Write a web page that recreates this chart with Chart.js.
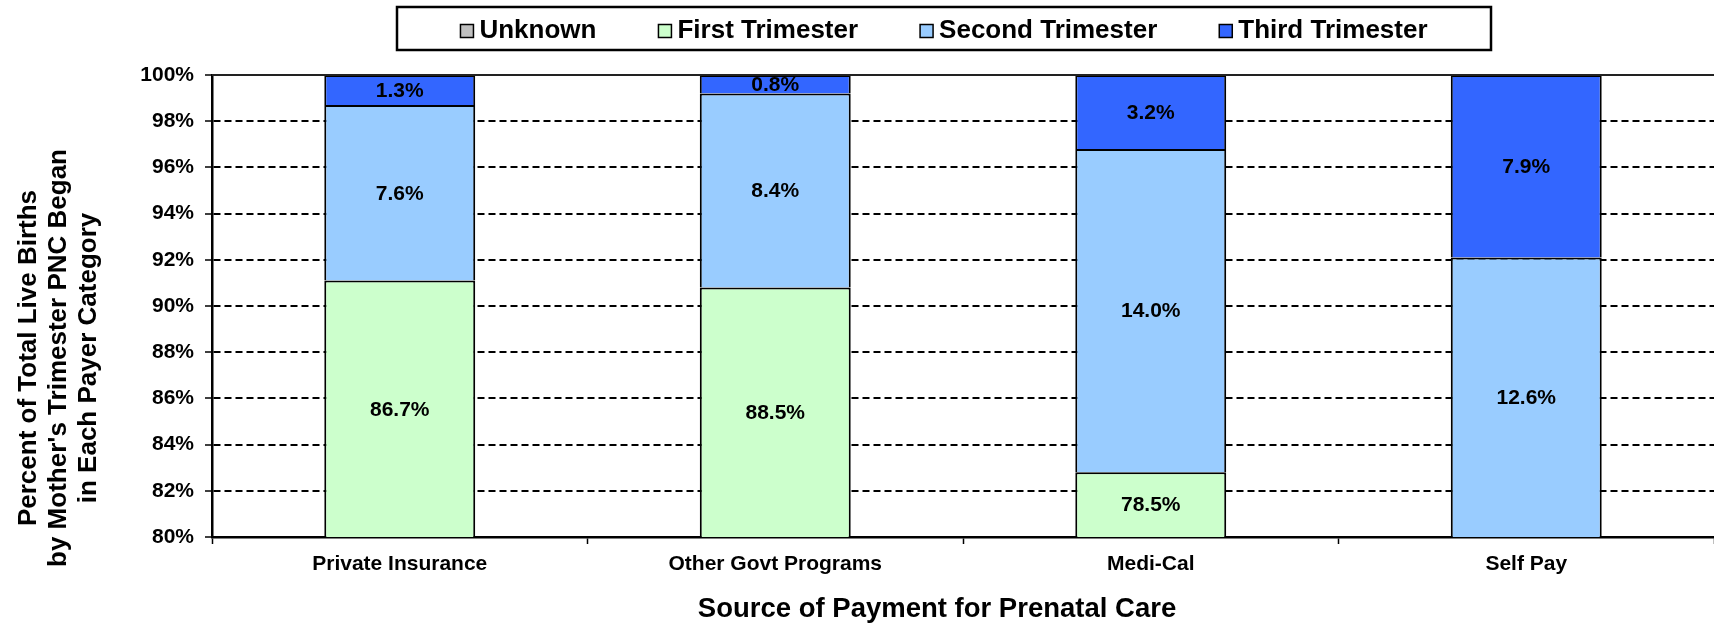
<!DOCTYPE html>
<html>
<head>
<meta charset="utf-8">
<script src="https://cdn.jsdelivr.net/npm/chart.js@4/dist/chart.umd.min.js"></script>
<style>
  html, body { margin: 0; padding: 0; background: #ffffff; }
  #wrap { position: relative; width: 1714px; height: 624px; }
</style>
</head>
<body>
<div id="wrap"><canvas id="c"></canvas></div>
<script>
// ---- data ----
const categories = ['Private Insurance', 'Other Govt Programs', 'Medi-Cal', 'Self Pay'];
const seriesNames = ['Unknown', 'First Trimester', 'Second Trimester', 'Third Trimester'];
const unknownPct = [4.4, 2.3, 4.3, 8.5];
const firstPct = [86.7, 88.5, 78.5, 71.0];
const secondPct = [7.6, 8.4, 14.0, 12.6];
const thirdPct = [1.3, 0.8, 3.2, 7.9];
const yMin = 80, yMax = 100, yStep = 2;
const yTitleLines = ['Percent of Total Live Births', "by Mother's Trimester PNC Began", 'in Each Payer Category'];
const xTitle = 'Source of Payment for Prenatal Care';

// ---- style ----
const FONT = "'Liberation Sans', Arial, Helvetica, sans-serif";
const seriesColors = ['#C0C0C0', '#CCFFCC', '#99CCFF', '#3366FF'];
const seriesValues = [unknownPct, firstPct, secondPct, thirdPct];

const datasets = seriesNames.map((name, i) => ({
  label: name,
  data: seriesValues[i],
  backgroundColor: seriesColors[i],
  borderColor: '#000000',
  borderWidth: 2,
  borderSkipped: 'start',
  categoryPercentage: 1.0,
  barPercentage: 0.402
}));

const valueLabels = {
  id: 'valueLabels',
  afterDatasetsDraw(chart) {
    const ctx = chart.ctx;
    const area = chart.chartArea;
    ctx.save();
    ctx.font = 'bold 21px ' + FONT;
    ctx.fillStyle = '#000000';
    ctx.textAlign = 'center';
    ctx.textBaseline = 'middle';
    chart.data.datasets.forEach((ds, di) => {
      const meta = chart.getDatasetMeta(di);
      meta.data.forEach((bar, i) => {
        const top = Math.max(Math.min(bar.y, bar.base), area.top);
        const bottom = Math.min(Math.max(bar.y, bar.base), area.bottom);
        if (bottom - top <= 0.5) return;
        const v = ds.data[i];
        ctx.fillText(v.toFixed(1) + '%', bar.x, (top + bottom) / 2 + 1);
      });
    });
    ctx.restore();
  }
};

const frameLegendTitles = {
  id: 'frameLegendTitles',
  afterDraw(chart) {
    const ctx = chart.ctx;
    const area = chart.chartArea;
    ctx.save();
    // solid top border of plot area
    ctx.strokeStyle = '#222222';
    ctx.lineWidth = 2;
    ctx.beginPath();
    ctx.moveTo(area.left, area.top);
    ctx.lineTo(area.right, area.top);
    ctx.stroke();

    // axis titles
    ctx.fillStyle = '#000000';
    ctx.textAlign = 'center';
    ctx.textBaseline = 'middle';
    ctx.font = 'bold 26px ' + FONT;
    yTitleLines.forEach((line, i) => {
      ctx.save();
      ctx.translate(29 + 30 * i, 358);
      ctx.rotate(-Math.PI / 2);
      ctx.fillText(line, 0, 0);
      ctx.restore();
    });
    ctx.font = 'bold 27.5px ' + FONT;
    ctx.fillText(xTitle, 937, 609);

    // legend built from the datasets
    const fx = 397, fy = 7, fw = 1094, fh = 43;
    ctx.lineWidth = 2.5;
    ctx.strokeStyle = '#000000';
    ctx.strokeRect(fx, fy, fw, fh);
    ctx.font = 'bold 26px ' + FONT;
    const gap = 62, box = 13, textOff = 19;
    const items = chart.data.datasets.map(d => ({ label: d.label, color: d.backgroundColor, w: ctx.measureText(d.label).width }));
    const total = items.reduce((s, it) => s + textOff + it.w, 0) + gap * (items.length - 1);
    let x = fx + fw / 2 - total / 2;
    const baseY = 37.5;
    items.forEach(it => {
      ctx.fillStyle = it.color;
      ctx.fillRect(x, 24.5, box, box);
      ctx.lineWidth = 1.5;
      ctx.strokeStyle = '#000000';
      ctx.strokeRect(x, 24.5, box, box);
      ctx.fillStyle = '#000000';
      ctx.textAlign = 'left';
      ctx.textBaseline = 'alphabetic';
      ctx.fillText(it.label, x + textOff, baseY);
      x += textOff + it.w + gap;
    });
    ctx.restore();
  }
};

new Chart(document.getElementById('c'), {
  type: 'bar',
  data: { labels: categories, datasets },
  options: {
    responsive: true,
    maintainAspectRatio: false,
    animation: false,
    layout: { padding: { top: 75, left: 0, right: 0, bottom: 0 } },
    plugins: {
      legend: { display: false },
      tooltip: { enabled: false }
    },
    scales: {
      x: {
        stacked: true,
        grid: {
          offset: true,
          drawOnChartArea: false,
          drawTicks: true,
          tickLength: 7,
          tickColor: '#000000',
          tickWidth: 1.5
        },
        border: { display: true, color: '#000000', width: 2.5 },
        ticks: {
          color: '#000000',
          font: { family: FONT, size: 21, weight: 'bold' },
          padding: 8,
          maxRotation: 0
        },
        title: { display: false },
        afterFit(scale) { scale.height = 87; }
      },
      y: {
        stacked: true,
        min: yMin,
        max: yMax,
        ticks: {
          stepSize: yStep,
          color: '#000000',
          font: { family: FONT, size: 21, weight: 'bold' },
          padding: 11,
          callback: v => v + '%'
        },
        grid: {
          color: c => (c.tick && (c.tick.value === yMax || c.tick.value === yMin)) ? 'rgba(0,0,0,0)' : '#000000',
          lineWidth: 2,
          drawTicks: true,
          tickLength: 7,
          tickColor: '#000000',
          tickWidth: 1.5,
          tickBorderDash: []
        },
        border: { display: true, color: '#000000', width: 2.5, dash: [7, 4] },
        title: { display: false },
        afterFit(scale) { scale.width = 212; }
      }
    }
  },
  plugins: [valueLabels, frameLegendTitles]
});
</script>
</body>
</html>
